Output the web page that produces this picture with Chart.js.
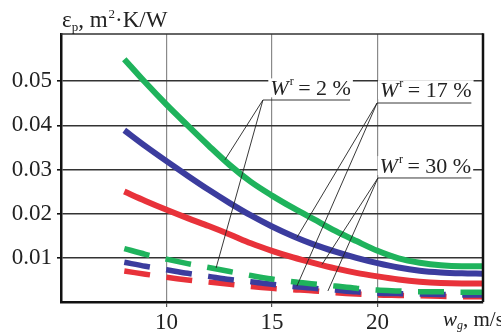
<!DOCTYPE html>
<html>
<head>
<meta charset="utf-8">
<script src="https://cdn.jsdelivr.net/npm/chart.js@4/dist/chart.umd.min.js"></script>
<style>
html,body{margin:0;padding:0;background:#fff;}
</style>
</head>
<body>
<canvas id="grafico" width="501" height="335"></canvas>
<script>
// gas velocity w_g, m/s
const xValues = [8,9,10,11,12,13,14,15,16,17,18,19,20,21,22,23,24,25];

// solid curves, eps_p (m2K/W)
const solid2  = [0.0550,0.0497,0.0447,0.0400,0.0354,0.0310,0.0272,0.0241,0.0213,0.0187,0.0161,0.0138,0.0116,0.0099,0.0089,0.0083,0.0081,0.0081];
const solid17 = [0.0389,0.0353,0.0319,0.0286,0.0254,0.0224,0.0196,0.0171,0.0149,0.0130,0.0114,0.0100,0.0088,0.0078,0.0071,0.0067,0.0065,0.0064];
const solid30 = [0.0250,0.0229,0.0209,0.0190,0.0172,0.0153,0.0133,0.0116,0.0101,0.0088,0.0076,0.0066,0.0058,0.0051,0.0046,0.0043,0.0042,0.0042];

// dashed curves
const dash2  = [0.0121,0.0108,0.0097,0.0087,0.0078,0.0069,0.0060,0.0052,0.0046,0.0041,0.0036,0.0031,0.0027,0.0025,0.0023,0.0023,0.0022,0.0022];
const dash17 = [0.0090,0.0081,0.0073,0.0065,0.0058,0.0051,0.0046,0.0040,0.0035,0.0031,0.0027,0.0023,0.0020,0.0019,0.0018,0.0017,0.0016,0.0016];
const dash30 = [0.0070,0.0063,0.0056,0.0050,0.0045,0.0040,0.0035,0.0031,0.0028,0.0025,0.0021,0.0018,0.0016,0.0015,0.0014,0.0013,0.0012,0.0012];

const xTicks = [10,15,20];
const yTicks = [0.01,0.02,0.03,0.04,0.05];

const GREEN = '#1fb35c', BLUE = '#3b3c9e', RED = '#e8323a';
const SERIF = '"Liberation Serif", "Times New Roman", serif';

// callouts W^r = ... (hub point, text anchor, end of underline, leader ends)
const notes = [
  {text:'2 %',  hub:[14.57,0.04575], tx:14.92, ty:0.0468, lineEnd:18.7,  ends:[[12.77,0.0322],[12.35,0.0077]]},
  {text:'17 %', hub:[19.98,0.04507], tx:20.12, ty:0.0464, lineEnd:24.45, ends:[[16.18,0.0146],[16.18,0.0036]]},
  {text:'30 %', hub:[20.02,0.02809], tx:20.1,  ty:0.0292, lineEnd:24.45, ends:[[17.37,0.0085],[17.65,0.0025]]}
];

function pts(ys){ return xValues.map((v,i) => ({x:v, y:ys[i]})); }

function line(ys, color, dashed){
  return {
    data: pts(ys),
    borderColor: color,
    borderWidth: dashed ? 5.5 : 6,
    borderDash: dashed ? [26,16.5] : [],
    borderCapStyle: 'butt',
    pointRadius: 0,
    fill: false,
    cubicInterpolationMode: 'monotone'
  };
}

const notesPlugin = {
  id: 'notes',
  afterDatasetsDraw(chart){
    const ctx = chart.ctx, x = chart.scales.x, y = chart.scales.y;
    const a = chart.chartArea;
    ctx.save();
    // frame: top and right
    ctx.strokeStyle = '#333'; ctx.lineWidth = 1.5;
    ctx.beginPath(); ctx.moveTo(a.left, a.top); ctx.lineTo(a.right, a.top); ctx.stroke();
    ctx.strokeStyle = '#111'; ctx.lineWidth = 2.5;
    ctx.beginPath(); ctx.moveTo(a.right, a.top - 0.7); ctx.lineTo(a.right, a.bottom); ctx.stroke();

    notes.forEach(n => {
      const hx = x.getPixelForValue(n.hub[0]), hy = y.getPixelForValue(n.hub[1]);
      ctx.strokeStyle = '#222'; ctx.lineWidth = 0.9;
      n.ends.forEach(e => {
        ctx.beginPath();
        ctx.moveTo(hx, hy);
        ctx.lineTo(x.getPixelForValue(e[0]), y.getPixelForValue(e[1]));
        ctx.stroke();
      });
      ctx.beginPath(); ctx.moveTo(hx, hy); ctx.lineTo(x.getPixelForValue(n.lineEnd), hy); ctx.stroke();

      const tx = x.getPixelForValue(n.tx), ty = y.getPixelForValue(n.ty);
      const rest = ' = ' + n.text;
      ctx.font = 'italic 22px ' + SERIF; const wW = ctx.measureText('W').width;
      ctx.font = '12px ' + SERIF; const wr = ctx.measureText('r').width;
      ctx.font = '22px ' + SERIF; const wRest = ctx.measureText(rest).width;
      ctx.fillStyle = '#fff';
      ctx.fillRect(tx - 2, ty - 17, wW + wr + wRest + 4, 19);
      ctx.fillStyle = '#222'; ctx.textAlign = 'left'; ctx.textBaseline = 'alphabetic';
      ctx.font = 'italic 22px ' + SERIF; ctx.fillText('W', tx, ty);
      ctx.font = '12px ' + SERIF; ctx.fillText('r', tx + wW + 1, ty - 10);
      ctx.font = '22px ' + SERIF; ctx.fillText(rest, tx + wW + wr, ty);
    });
    ctx.restore();
  },
  afterDraw(chart){
    const ctx = chart.ctx;
    ctx.save();
    ctx.fillStyle = '#222'; ctx.textAlign = 'left'; ctx.textBaseline = 'alphabetic';
    // y title: eps_p, m2·K/W
    let px = 62;
    ctx.font = '23px ' + SERIF; ctx.fillText('ε', px, 27); px += ctx.measureText('ε').width;
    ctx.font = '13px ' + SERIF; ctx.fillText('p', px, 31); px += ctx.measureText('p').width;
    ctx.font = '23px ' + SERIF; ctx.fillText(', m', px, 27); px += ctx.measureText(', m').width;
    ctx.font = '13px ' + SERIF; ctx.fillText('2', px + 1, 18); px += ctx.measureText('2').width + 1;
    ctx.font = '23px ' + SERIF; ctx.fillText('·K/W', px, 27);
    // x title: w_g, m/s
    px = 443;
    ctx.font = 'italic 21px ' + SERIF; ctx.fillText('w', px, 326); px += ctx.measureText('w').width;
    ctx.font = 'italic 12px ' + SERIF; ctx.fillText('g', px, 329); px += ctx.measureText('g').width;
    ctx.font = '21px ' + SERIF; ctx.fillText(', m/s', px, 326);
    ctx.restore();
  }
};

new Chart(document.getElementById('grafico'), {
  type: 'line',
  data: {
    datasets: [
      line(solid2, GREEN, false),
      line(solid17, BLUE, false),
      line(solid30, RED, false),
      line(dash2, GREEN, true),
      line(dash17, BLUE, true),
      line(dash30, RED, true)
    ]
  },
  options: {
    responsive: false,
    animation: false,
    layout: { padding: { top: 34, right: 18, left: 0, bottom: 0 } },
    plugins: { legend: { display: false }, tooltip: { enabled: false } },
    scales: {
      x: {
        type: 'linear', min: 5, max: 25,
        afterBuildTicks: s => { s.ticks = xTicks.map(v => ({value: v})); },
        afterFit: s => { s.height = 33; },
        grid: { color: '#8a8a8a', lineWidth: 1.2, tickLength: 5, tickColor: '#555' },
        border: { color: '#111', width: 2.5 },
        ticks: { color: '#222', padding: 2, maxRotation: 0, font: { family: SERIF, size: 23 } }
      },
      y: {
        min: 0, max: 0.0607,
        afterBuildTicks: s => { s.ticks = yTicks.map(v => ({value: v})); },
        afterFit: s => { s.width = 61; },
        grid: { color: '#333', lineWidth: 1.6, tickLength: 4, tickColor: '#111' },
        border: { color: '#111', width: 2.5 },
        ticks: { color: '#222', padding: 5, font: { family: SERIF, size: 23 }, callback: v => v.toFixed(2) }
      }
    }
  },
  plugins: [notesPlugin]
});
</script>
</body>
</html>
